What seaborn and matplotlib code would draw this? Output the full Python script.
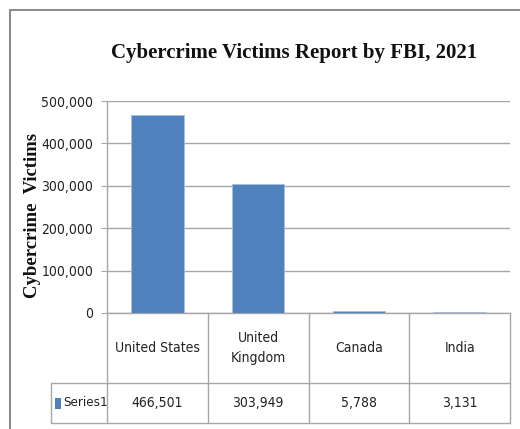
import matplotlib
matplotlib.use("Agg")
import matplotlib.pyplot as plt
from matplotlib.lines import Line2D
from matplotlib.patches import Rectangle
import seaborn as sns
import pandas as pd

countries = ["United States", "United\nKingdom", "Canada", "India"]
victims = [466501, 303949, 5788, 3131]
series_name = "Series1"
yticks = [0, 100000, 200000, 300000, 400000, 500000]
title = "Cybercrime Victims Report by FBI, 2021"
ylabel = "Cybercrime  Victims"

bar_color = "#4f81bd"
grid_color = "#a6a6a6"
border_color = "#8c8c8c"

sns.set_theme(style="white")
plt.rcParams["font.family"] = ["DejaVu Sans"]
plt.rcParams["font.stretch"] = "condensed"
FS = 10

df = pd.DataFrame({"country": countries, "victims": victims})

W, H = 520, 429
fig = plt.figure(figsize=(W / 100, H / 100), dpi=100)
fig.patch.set_facecolor("white")

left, right, top, bottom = 107, 510, 101, 313
ax = fig.add_axes([left / W, 1 - bottom / H, (right - left) / W, (bottom - top) / H])

sns.barplot(data=df, x="country", y="victims", color=bar_color, width=0.52,
            saturation=1, ax=ax, edgecolor="#a7c0de", linewidth=0.6, zorder=3)

ax.set_ylim(0, 500000)
ax.set_xlim(-0.5, len(countries) - 0.5)
ax.set_yticks(yticks)
ax.set_yticklabels([f"{v:,}" for v in yticks], fontsize=FS, color="#222222",
                   fontstretch="condensed")
ax.set_xticks([])
ax.set_xlabel("")
ax.set_ylabel("")
ax.yaxis.grid(True, color=grid_color, linewidth=1.0, zorder=0)
ax.set_axisbelow(True)
ax.tick_params(axis="y", length=4, width=0.8, color=grid_color, pad=6, left=True)
for s in ["top", "right"]:
    ax.spines[s].set_visible(False)
for s in ["left", "bottom"]:
    ax.spines[s].set_color(grid_color)
    ax.spines[s].set_linewidth(1.0)

# Title and y label
fig.text(294 / W, 1 - 53 / H, title, ha="center", va="center",
         fontsize=15, fontweight="bold", family=["Liberation Serif", "DejaVu Serif"],
         color="#111111")
fig.text(33 / W, 1 - 215 / H, ylabel, rotation=90, ha="center", va="center",
         fontsize=13.5, fontweight="bold", family=["Liberation Serif", "DejaVu Serif"],
         color="#111111")

# Data table under the chart
tr = ax.get_xaxis_transform()
ph = bottom - top
row1 = -(383 - bottom) / ph
row2 = -(423 - bottom) / ph
label_left = -0.5 - (left - 51) / ((right - left) / len(countries))
n = len(countries)
lkw = dict(color=grid_color, linewidth=1.0, transform=tr, clip_on=False)
ax.add_line(Line2D([label_left, n - 0.5], [row1, row1], **lkw))
ax.add_line(Line2D([label_left, n - 0.5], [row2, row2], **lkw))
ax.add_line(Line2D([label_left, label_left], [row1, row2], **lkw))
for i in range(n + 1):
    ax.add_line(Line2D([i - 0.5, i - 0.5], [0, row2], **lkw))

for i, (c, v) in enumerate(zip(countries, victims)):
    ax.text(i, row1 / 2, c, transform=tr, ha="center", va="center", fontsize=FS,
            color="#222222", linespacing=1.5, clip_on=False, fontstretch="condensed")
    ax.text(i, (row1 + row2) / 2, f"{v:,}", transform=tr, ha="center", va="center",
            fontsize=FS, color="#222222", clip_on=False, fontstretch="condensed")

# legend key inside table
fig.patches.append(Rectangle((55 / W, 1 - 409 / H), 6 / W, 11 / H, transform=fig.transFigure,
                             facecolor=bar_color, edgecolor="none"))
fig.text(63 / W, 1 - 403 / H, series_name, ha="left", va="center", fontsize=9.5,
         color="#222222", fontstretch="condensed")

# outer chart border
fig.add_artist(Line2D([10 / W, 10 / W], [0, 1 - 10 / H], color=border_color, linewidth=1.5,
                      transform=fig.transFigure))
fig.add_artist(Line2D([10 / W, 1], [1 - 10 / H, 1 - 10 / H], color=border_color, linewidth=1.5,
                      transform=fig.transFigure))

fig.savefig("out.png", dpi=100, facecolor="white")
